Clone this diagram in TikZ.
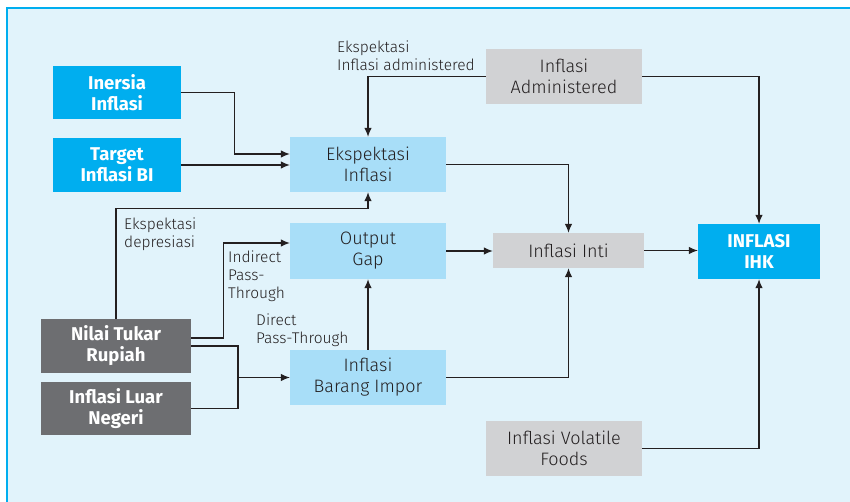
\documentclass[tikz,border=0pt]{standalone}
\usepackage{fontspec}
\setmainfont{Fira Sans}[UprightFont={* Light}, BoldFont={* Bold}]
\usepackage{tikz}
\usetikzlibrary{positioning}
\usetikzlibrary{arrows.meta}
\definecolor{bgblue}{HTML}{E1F3FB}
\definecolor{frameblue}{HTML}{00AEEF}
\definecolor{keyblue}{HTML}{00AEEF}
\definecolor{lightblue}{HTML}{A8DEF8}
\definecolor{boxgray}{HTML}{D1D2D4}
\definecolor{darkgray}{HTML}{6D6E71}
\definecolor{inkgray}{HTML}{231F20}
\tikzset{edge/.style = {->,> = {Latex[length=9pt,width=7.5pt]}, line width=1.1pt, draw=inkgray}}

\begin{document}
\begin{tikzpicture}[x=1pt, y=-1pt, inner sep=0pt, align=center,
    box/.style={rectangle, minimum width=156pt, minimum height=55pt, font=\fontsize{18}{21}\selectfont, text=inkgray},
    key node/.style={box, fill=keyblue, text=white, font=\bfseries\fontsize{18.5}{21}\selectfont},
    mid node/.style={box, fill=lightblue},
    gray node/.style={box, fill=boxgray},
    dark node/.style={box, fill=darkgray, text=white, minimum width=150pt, minimum height=54pt, font=\bfseries\fontsize{18.5}{21}\selectfont},
    note/.style={anchor=west, align=left, text=inkgray, font=\fontsize{15.5}{18}\selectfont}]
    \useasboundingbox (0,0) rectangle (850,502);
    \fill[bgblue] (7,8) rectangle (850,502);
    \draw[frameblue, line width=2.5pt] (7,502) -- (7,8) -- (850,8);
    % nodes
    \node[key node, minimum width=128pt, minimum height=53pt] (inersia) at (117,92.5) {Inersia\\Inflasi};
    \node[key node, minimum width=128pt, minimum height=54pt] (target) at (117,165) {Target\\Inflasi BI};
    \node[mid node] (ekspinf) at (368,164.5) {Ekspektasi\\Inflasi};
    \node[gray node] (admin) at (564,76.5) {Inflasi\\Administered};
    \node[gray node, minimum width=151pt, minimum height=35pt] (inti) at (568.5,250.5) {Inflasi Inti};
    \node[key node, minimum width=122pt] (ihk) at (759,251.5) {INFLASI\\IHK};
    \node[mid node, minimum height=56pt] (gap) at (368,251) {Output\\Gap};
    \node[mid node] (impor) at (368,377.5) {Inflasi\\Barang Impor};
    \node[dark node] (nilai) at (116,346) {Nilai Tukar\\Rupiah};
    \node[dark node, minimum height=53pt] (luar) at (116,408.5) {Inflasi Luar\\Negeri};
    \node[gray node] (volatile) at (564,448.5) {Inflasi Volatile\\Foods};
    % labels
    \node[note] (lbladmin) at (337,55.5) {Ekspektasi\\Inflasi administered};
    \node[note] (lbldepr) at (124,234) {Ekspektasi\\depresiasi};
    \node[note] (lblindirect) at (228,276.5) {Indirect\\Pass-\\Through};
    \node[note] (lbldirect) at (256,330) {Direct\\Pass-Through};
    \coordinate (merge) at (238,377.5);
    % connectors
    \draw[edge] (inersia.east) -- ++(53,0) |- ([yshift=10.5pt]ekspinf.west);
    \draw[edge] (target.east) -- (target.east -| ekspinf.west);
    \draw[edge] (admin.west) -| (ekspinf.north);
    \draw[edge] (admin.east) -| (ihk.north);
    \draw[edge] (ekspinf.east) -| (inti.north);
    \draw[edge] (gap.east) -- (gap.east -| inti.west);
    \draw[edge] (inti.east) -- (inti.east -| ihk.west);
    \draw[edge] (nilai.north) -- ++(0,-110) -| (ekspinf.south);
    \draw[edge] ([yshift=8pt]nilai.east) -- ++(32,0) |- ([yshift=8pt]gap.west);
    \draw[edge, -] (nilai.east) -| (merge);
    \draw[edge, -] (luar.east) -| (merge);
    \draw[edge] (merge) -- (impor.west);
    \draw[edge] (impor.north) -- (gap.south);
    \draw[edge] (impor.east) -| (inti.south);
    \draw[edge] (volatile.east) -| (ihk.south);
\end{tikzpicture}
\end{document}
